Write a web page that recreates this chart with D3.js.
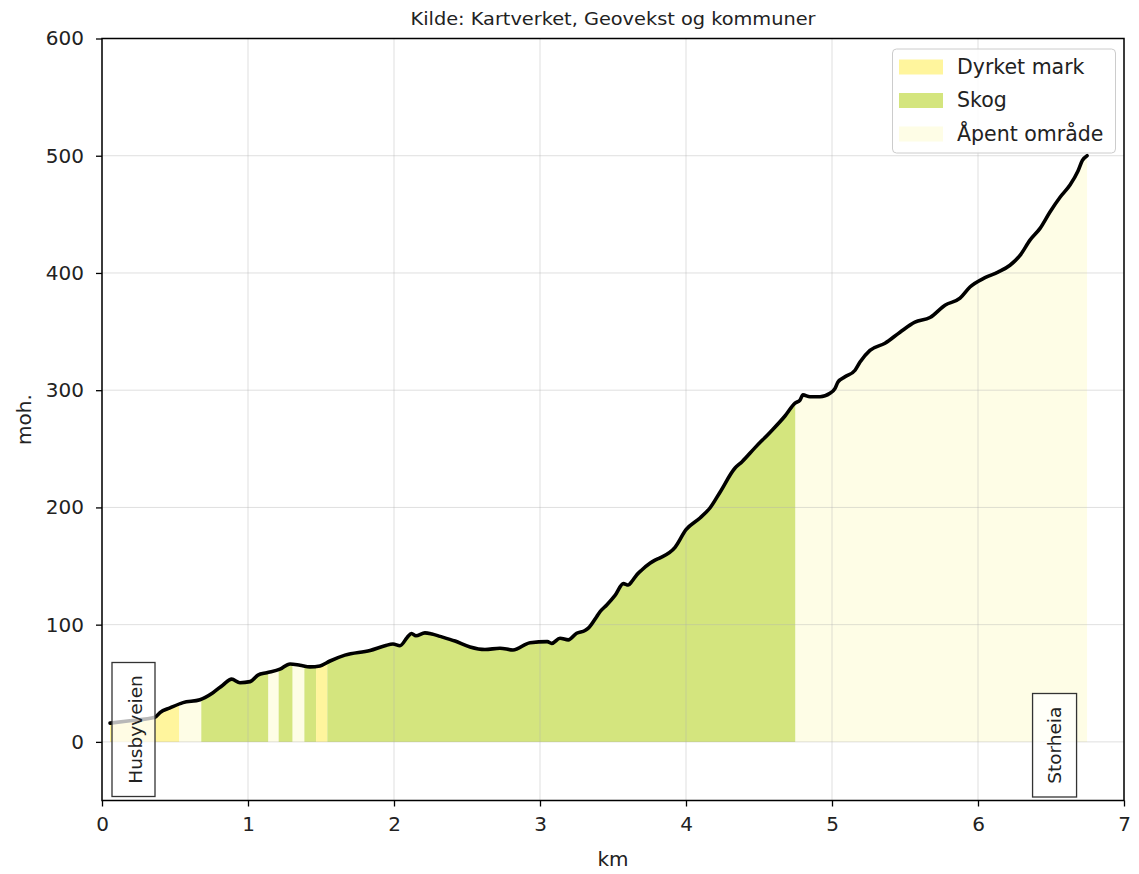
<!DOCTYPE html>
<html><head><meta charset="utf-8">
<script src="https://cdn.jsdelivr.net/npm/d3@7/dist/d3.min.js"></script>
<style>body{margin:0;background:#fff}</style>
</head><body>
<svg id="c" width="1139" height="874"></svg>
<script>
// distance (km) and elevation (m)
const distKm = [0.055,0.19,0.363,0.397,0.466,0.555,0.671,0.760,0.829,0.888,0.945,1.014,1.068,1.128,1.219,1.288,1.356,1.425,1.493,1.562,1.664,1.836,1.938,1.993,2.041,2.090,2.120,2.150,2.212,2.260,2.315,2.418,2.521,2.623,2.726,2.815,2.932,3.050,3.080,3.137,3.194,3.251,3.308,3.331,3.388,3.411,3.457,3.514,3.571,3.605,3.628,3.662,3.697,3.753,3.788,3.822,3.925,4.0,4.096,4.164,4.233,4.336,4.384,4.473,4.575,4.678,4.747,4.781,4.801,4.849,4.918,4.986,5.021,5.041,5.089,5.158,5.192,5.26,5.363,5.466,5.568,5.671,5.774,5.877,5.945,6.048,6.137,6.219,6.288,6.356,6.425,6.493,6.562,6.63,6.685,6.715,6.747];
const elevM = [16,18,21,25,29,33.5,36,42,48.6,53.5,50.5,51.4,57,59,62,66.5,65.4,64,64.8,69,74,78,82,83.5,82,89,92.5,90.5,93,92,90,86,81,78.8,79.9,78.4,84.6,85.5,84,88.4,87,92.7,95,97,106.8,111,116.8,125,135,133.8,136.7,142.4,146.6,152.3,155,157,166,181,191,199.5,213,233.6,239,251,264,278,289,291.6,296,294.4,294.4,297.3,301.5,307,311.4,317,324,334,340,349.5,358,362,372.5,378.5,388,396,400.7,406.6,415,428,438,452,464.6,475,487,496,500];
// land cover segments
const segStart = [0.0, 0.53, 0.68, 1.14, 1.21, 1.306, 1.386, 1.466, 1.543, 4.75];
const segEnd   = [0.53, 0.68, 1.14, 1.21, 1.306, 1.386, 1.466, 1.543, 4.75, 6.76];
const segType  = ["Dyrket mark","Åpent område","Skog","Åpent område","Skog","Åpent område","Skog","Dyrket mark","Skog","Åpent område"];
const legendLabels = ["Dyrket mark","Skog","Åpent område"];
const legendColors = ["#fff59d","#d4e57e","#fefde6"];
const xTicks = [0,1,2,3,4,5,6,7];
const yTicks = [0,100,200,300,400,500,600];
const places = [{name:"Husbyveien", km:0.0}, {name:"Storheia", km:6.747}];

const svg = d3.select("#c");
const L=102, R=1124, T=38.5, B=800.5;
const FS = 20;
const x = d3.scaleLinear().domain([0,7]).range([L,R]);
const y = d3.scaleLinear().domain([-50,600]).range([B,T]);
const color = d3.scaleOrdinal().domain(legendLabels).range(legendColors);
const pts = distKm.map((d,i)=>[d,elevM[i]]);

const defs = svg.append("defs");
const area = d3.area().x(d=>x(d[0])).y0(y(0)).y1(d=>y(d[1])).curve(d3.curveMonotoneX);
segStart.forEach((s,i)=>{
  defs.append("clipPath").attr("id","seg"+i).append("rect")
    .attr("x",x(s)).attr("y",T).attr("width",x(segEnd[i])-x(s)).attr("height",B-T);
  svg.append("path").datum(pts).attr("d",area).attr("fill",color(segType[i]))
    .attr("clip-path","url(#seg"+i+")");
});

// grid
const g = svg.append("g");
xTicks.forEach(t=>g.append("line").attr("x1",x(t)).attr("x2",x(t)).attr("y1",T).attr("y2",B).attr("stroke","#b0b0b0").attr("stroke-opacity",0.4).attr("stroke-width",1));
yTicks.forEach(t=>g.append("line").attr("x1",L).attr("x2",R).attr("y1",y(t)).attr("y2",y(t)).attr("stroke","#b0b0b0").attr("stroke-opacity",0.4).attr("stroke-width",1));

// line
svg.append("path").datum(pts)
  .attr("d",d3.line().x(d=>x(d[0])).y(d=>y(d[1])).curve(d3.curveMonotoneX))
  .attr("fill","none").attr("stroke","#000").attr("stroke-width",3.6).attr("stroke-linejoin","round").attr("stroke-linecap","round");

// place labels
function placeBox(cx, top, bottom, w, name, off){
  svg.append("rect").attr("x",cx-w/2).attr("y",top).attr("width",w).attr("height",bottom-top)
    .attr("fill","#fff").attr("fill-opacity",0.72).attr("stroke","#333").attr("stroke-width",1.3);
  svg.append("text").attr("transform",`translate(${cx+off},${(top+bottom)/2}) rotate(-90)`)
    .attr("text-anchor","middle").attr("font-family","DejaVu Sans").attr("font-size",18.5).attr("fill","#222").text(name);
}
placeBox(x(places[0].km)+31.5, 662.5, 796.5, 43, places[0].name, 8);
placeBox(x(places[1].km)-32.5, 693.5, 797, 44, places[1].name, 6.5);

// frame
svg.append("rect").attr("x",L).attr("y",T).attr("width",R-L).attr("height",B-T).attr("fill","none").attr("stroke","#000").attr("stroke-width",1.5);

// axes
const xa = svg.append("g").attr("transform",`translate(0,${B})`)
  .call(d3.axisBottom(x).tickValues(xTicks).tickSize(6).tickPadding(10).tickFormat(d3.format("d")));
const ya = svg.append("g").attr("transform",`translate(${L},0)`)
  .call(d3.axisLeft(y).tickValues(yTicks).tickSize(6).tickPadding(12).tickFormat(d3.format("d")));
[xa,ya].forEach(a=>{
  a.select(".domain").remove();
  a.selectAll("line").attr("stroke","#000").attr("stroke-width",1.3);
  a.selectAll("text").attr("font-family","DejaVu Sans").attr("font-size",FS).attr("fill","#222");
});

svg.append("text").attr("x",(L+R)/2).attr("y",866).attr("text-anchor","middle")
  .attr("font-family","DejaVu Sans").attr("font-size",FS).attr("fill","#222").text("km");
svg.append("text").attr("transform",`translate(31,${(T+B)/2}) rotate(-90)`).attr("text-anchor","middle")
  .attr("font-family","DejaVu Sans").attr("font-size",FS).attr("fill","#222").text("moh.");
svg.append("text").attr("x",(L+R)/2).attr("y",25).attr("text-anchor","middle")
  .attr("font-family","DejaVu Sans Condensed, DejaVu Sans").attr("font-size",18.5).attr("fill","#222")
  .attr("textLength",405).attr("lengthAdjust","spacingAndGlyphs")
  .text("Kilde: Kartverket, Geovekst og kommuner");

// legend
const lg = svg.append("g");
lg.append("rect").attr("x",892.5).attr("y",49).attr("width",223).attr("height",104).attr("rx",4)
  .attr("fill","#fff").attr("fill-opacity",0.85).attr("stroke","#ccc").attr("stroke-width",1);
legendLabels.forEach((lab,i)=>{
  const cy = 67 + i*33.5;
  lg.append("rect").attr("x",899).attr("y",cy-7.5).attr("width",44).attr("height",15).attr("fill",legendColors[i]);
  lg.append("text").attr("x",957).attr("y",cy+6.5).attr("font-family","DejaVu Sans").attr("font-size",20.5).attr("fill","#222").text(lab);
});
</script>
</body></html>
